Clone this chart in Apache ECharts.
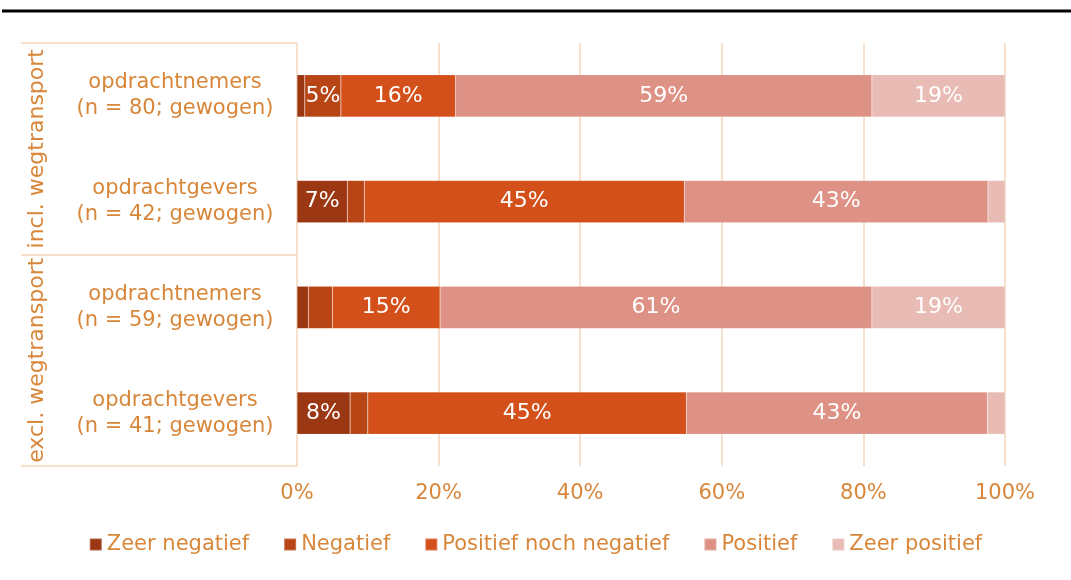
<!DOCTYPE html>
<html>
<head>
<meta charset="utf-8">
<title>Houding opdrachtnemers en opdrachtgevers</title>
<script src="https://cdn.jsdelivr.net/npm/echarts@6/dist/echarts.min.js"></script>
<style>
  html, body { margin: 0; padding: 0; background: #fff; }
  #chart { width: 1071px; height: 580px; }
</style>
</head>
<body>
<div id="chart"></div>
<script>
// categorieën (van boven naar beneden)
const categories = [
  'opdrachtnemers\n(n = 80; gewogen)',
  'opdrachtgevers\n(n = 42; gewogen)',
  'opdrachtnemers\n(n = 59; gewogen)',
  'opdrachtgevers\n(n = 41; gewogen)'
]
const groups = ['incl. wegtransport', 'excl. wegtransport']

// aandelen in procenten per antwoord
const zeerNegatief = [1.1, 7.1, 1.6, 7.5]
const negatief = [5.1, 2.4, 3.4, 2.5]
const neutraal = [16.2, 45.2, 15.2, 45.0]
const positief = [58.8, 42.9, 61.0, 42.5]
const zeerPositief = [18.8, 2.4, 18.8, 2.5]

const xTicks = [0, 20, 40, 60, 80, 100]

const seriesNames = ['Zeer negatief', 'Negatief', 'Positief noch negatief', 'Positief', 'Zeer positief']
const seriesData = [zeerNegatief, negatief, neutraal, positief, zeerPositief]
const colors = ['#9c3713', '#b84516', '#d4501b', '#de9286', '#e8bbb5']

const textColor = '#d8873a'
const lineColor = '#f6e1cf'
const font = '"DejaVu Sans", Verdana, sans-serif'

const chart = echarts.init(document.getElementById('chart'))

const option = {
  animation: false,
  textStyle: { fontFamily: font },
  graphic: [{
    type: 'line',
    shape: { x1: 2, y1: 11, x2: 1071, y2: 11 },
    style: { stroke: '#000', lineWidth: 3 }
  }],
  legend: {
    data: seriesNames,
    bottom: 20,
    left: 'center',
    icon: 'rect',
    itemWidth: 12,
    itemHeight: 12,
    itemGap: 34,
    textStyle: { color: textColor, fontSize: 21, fontFamily: font }
  },
  grid: { left: 297, right: 66, top: 43, bottom: 114, containLabel: false },
  xAxis: {
    type: 'value',
    min: 0,
    max: 100,
    interval: 20,
    axisLine: { show: false },
    axisTick: { show: false },
    axisLabel: {
      color: textColor,
      fontSize: 21,
      margin: 17,
      formatter: v => xTicks.includes(v) ? v + '%' : ''
    },
    splitLine: { lineStyle: { color: lineColor, width: 2 } }
  },
  yAxis: [{
    type: 'category',
    data: categories,
    inverse: true,
    axisLine: { lineStyle: { color: lineColor, width: 2 } },
    axisTick: { show: false },
    axisLabel: {
      interval: 0,
      color: textColor,
      fontSize: 21,
      lineHeight: 26,
      align: 'center',
      margin: 122,
      padding: [4, 0, 0, 0]
    }
  }, {
    type: 'category',
    data: groups,
    inverse: true,
    position: 'left',
    axisLine: { show: false },
    axisTick: { show: true, interval: 0, length: 276, lineStyle: { color: lineColor, width: 2 } },
    axisLabel: {
      interval: 0,
      color: textColor,
      fontSize: 22,
      rotate: 90,
      margin: 249
    }
  }],
  series: seriesNames.map((name, i) => ({
    name: name,
    type: 'bar',
    stack: 'totaal',
    yAxisIndex: 0,
    barWidth: '40%',
    data: seriesData[i],
    itemStyle: { color: colors[i], borderColor: 'rgba(255,255,255,0.25)', borderWidth: 0.5 },
    label: {
      show: true,
      position: 'inside',
      color: '#fff',
      fontSize: 22,
      fontFamily: font,
      formatter: p => p.value >= 5 ? Math.round(p.value) + '%' : ''
    }
  }))
}

chart.setOption(option)
</script>
</body>
</html>
